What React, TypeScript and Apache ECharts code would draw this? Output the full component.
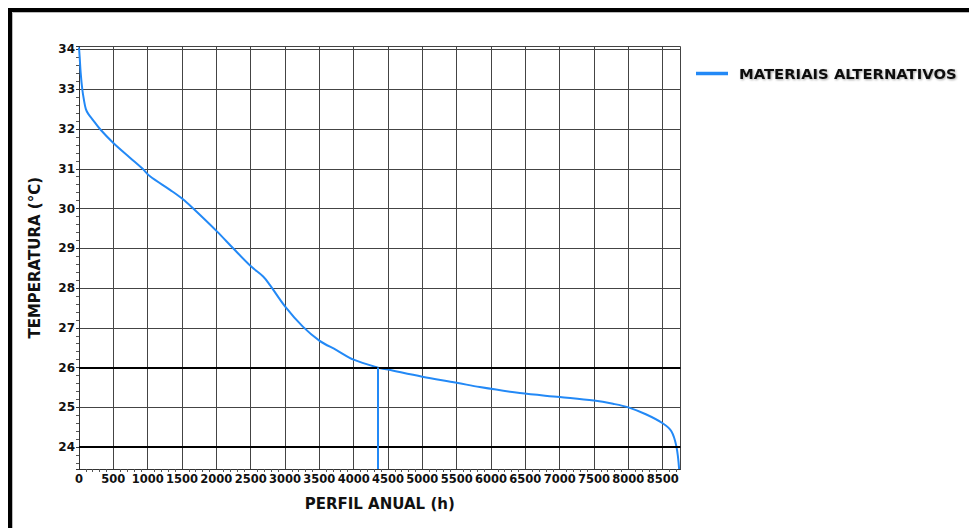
import React, { useEffect, useRef } from "react";
import * as echarts from "echarts";

const hours = [0, 10, 25, 48, 70, 100, 135, 184, 305, 500, 742, 927, 1034, 1325, 1510, 1664, 2012, 2245, 2508, 2682, 2779, 3000, 3260, 3500, 3750, 4000, 4355, 4500, 5000, 5500, 5836, 6420, 7000, 7500, 7777, 8000, 8263, 8500, 8627, 8700, 8740];
const temps = [34.05, 33.8, 33.4, 33.0, 32.75, 32.5, 32.38, 32.27, 32.0, 31.65, 31.28, 31.0, 30.81, 30.47, 30.24, 30.0, 29.42, 29.0, 28.54, 28.29, 28.08, 27.54, 27.03, 26.68, 26.44, 26.2, 26.0, 25.95, 25.77, 25.62, 25.51, 25.36, 25.26, 25.17, 25.09, 25.0, 24.82, 24.6, 24.4, 24.02, 23.45];
const thresholds = [24, 26];
const crossingHour = 4355;
const seriesName = "MATERIAIS ALTERNATIVOS";
const xTitle = "PERFIL ANUAL (h)";
const yTitle = "TEMPERATURA (°C)";
const xMin = 0;
const xMax = 8760;
const xStep = 500;
const yMin = 23.45;
const yMax = 34.075;

const BLUE = "#2389f6";
const FONT = "DejaVu Sans";

export default function App() {
  const ref = useRef<HTMLDivElement>(null);
  useEffect(() => {
    if (!ref.current) return;
    const chart = echarts.init(ref.current, undefined, { renderer: "svg" });
    const gridColor = "#444";
    chart.setOption({
      animation: false,
      backgroundColor: "#fff",
      grid: { left: 79, right: 288.5, top: 46.5, bottom: 59, containLabel: false },
      legend: {
        data: [seriesName],
        left: 691,
        top: 61,
        icon: "rect",
        itemWidth: 32,
        itemHeight: 3.5,
        textStyle: {
          fontFamily: FONT,
          fontWeight: "bold",
          fontSize: 14.8,
          color: "#111",
          padding: [0, 0, 0, 6],
          textShadowColor: "rgba(0,0,0,0.35)",
          textShadowBlur: 2,
          textShadowOffsetX: 1,
          textShadowOffsetY: 1,
        },
      },
      xAxis: {
        type: "value",
        min: xMin,
        max: xMax,
        interval: xStep,
        name: xTitle,
        nameLocation: "middle",
        nameGap: 27,
        nameTextStyle: { fontFamily: FONT, fontWeight: "bold", fontSize: 15, color: "#111" },
        axisLine: { show: true, lineStyle: { color: "#333", width: 1 } },
        axisTick: { show: false },
        minorTick: { show: true, splitNumber: 5, length: 3, lineStyle: { color: "#555" } },
        axisLabel: {
          fontFamily: FONT,
          fontWeight: "bold",
          fontSize: 11.5,
          color: "#111",
          margin: 4,
          showMaxLabel: false,
          formatter: (v: number) => (v % xStep === 0 ? String(v) : ""),
        },
        splitLine: { show: true, lineStyle: { color: gridColor, width: 1 } },
      },
      yAxis: {
        type: "value",
        min: yMin,
        max: yMax,
        splitNumber: 10,
        name: yTitle,
        nameLocation: "middle",
        nameGap: 37,
        nameRotate: 90,
        nameTextStyle: { fontFamily: FONT, fontWeight: "bold", fontSize: 15, color: "#111" },
        axisLine: { show: true, lineStyle: { color: "#333", width: 1 } },
        axisTick: { show: true, inside: false, length: 3, lineStyle: { color: "#333" } },
        minorTick: { show: true, splitNumber: 5, length: 3, lineStyle: { color: "#555" } },
        axisLabel: {
          fontFamily: FONT,
          fontWeight: "bold",
          fontSize: 12,
          color: "#111",
          margin: 4,
          showMinLabel: false,
          showMaxLabel: false,
          formatter: (v: number) => (Number.isInteger(v) ? String(v) : ""),
        },
        splitLine: { show: true, lineStyle: { color: gridColor, width: 1 } },
      },
      series: [
        {
          name: seriesName,
          type: "line",
          data: hours.map((h, i) => [h, temps[i]]),
          showSymbol: false,
          smooth: 0.35,
          lineStyle: { color: BLUE, width: 2 },
          itemStyle: { color: BLUE },
          z: 3,
          markLine: {
            silent: true,
            symbol: "none",
            label: { show: false },
            data: [
              ...thresholds.map((t) => ({ yAxis: t, lineStyle: { color: "#000", width: 2, type: "solid" } })),
              [
                { coord: [crossingHour, thresholds[1]], lineStyle: { color: BLUE, width: 2, type: "solid" } },
                { coord: [crossingHour, yMin] },
              ],
            ],
          },
        },
      ],
      graphic: [
        { type: "rect", shape: { x: 8, y: 8, width: 4, height: 520 }, style: { fill: "#000" }, silent: true },
        { type: "rect", shape: { x: 8, y: 8, width: 961, height: 4 }, style: { fill: "#000" }, silent: true },
        { type: "line", shape: { x1: 12.5, y1: 12.5, x2: 12.5, y2: 528 }, style: { stroke: "#bbb", lineWidth: 1 }, silent: true },
        { type: "line", shape: { x1: 12.5, y1: 12.5, x2: 969, y2: 12.5 }, style: { stroke: "#bbb", lineWidth: 1 }, silent: true },
      ],
    });
    return () => chart.dispose();
  }, []);
  return (
    <div
      ref={ref}
      style={{ position: "fixed", left: 0, top: 0, width: 969, height: 528, overflow: "hidden", background: "#fff" }}
    />
  );
}
